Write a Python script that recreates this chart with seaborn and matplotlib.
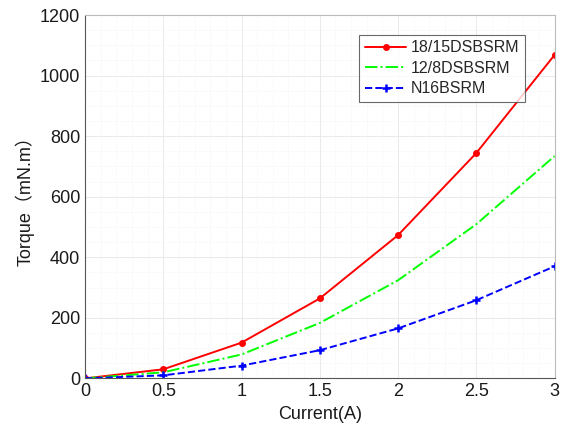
import matplotlib
matplotlib.use("Agg")
import matplotlib.pyplot as plt
import seaborn as sns
import pandas as pd
from matplotlib.ticker import MultipleLocator, FuncFormatter

current = [0, 0.5, 1, 1.5, 2, 2.5, 3]
dsbsrm_18_15 = [0, 30, 118, 264, 473, 744, 1068]
dsbsrm_12_8 = [0, 20, 79, 183, 324, 509, 734]
n16bsrm = [0, 10, 42, 93, 165, 258, 370]
series_names = ["18/15DSBSRM", "12/8DSBSRM", "N16BSRM"]

sns.set_style("white")
plt.rcParams['font.family'] = ['Liberation Sans', 'Noto Sans CJK SC', 'DejaVu Sans']

df = pd.DataFrame({
    "Current": current * 3,
    "Torque": dsbsrm_18_15 + dsbsrm_12_8 + n16bsrm,
    "Series": [series_names[0]] * 7 + [series_names[1]] * 7 + [series_names[2]] * 7,
})

fig, ax = plt.subplots(figsize=(5.67, 4.29), dpi=100)
fig.subplots_adjust(left=0.15, right=0.978, top=0.965, bottom=0.118)

styles = {
    series_names[0]: dict(color="#ff0000", linestyle="-", marker="o", markersize=4),
    series_names[1]: dict(color="#00ff00", linestyle="-.", marker=None),
    series_names[2]: dict(color="#0000ff", linestyle="--", marker="+", markersize=6, markeredgewidth=1.8),
}
for name in series_names:
    sub = df[df["Series"] == name]
    st = styles[name]
    sns.lineplot(data=sub, x="Current", y="Torque", ax=ax, label=name,
                 color=st["color"], linestyle=st["linestyle"], marker=st["marker"],
                 markersize=st.get("markersize", 4), markeredgewidth=st.get("markeredgewidth", 1),
                 markeredgecolor=st["color"], linewidth=1.4)

ax.set_xlim(0, 3)
ax.set_ylim(0, 1200)
ax.xaxis.set_major_locator(MultipleLocator(0.5))
ax.xaxis.set_minor_locator(MultipleLocator(0.1))
ax.yaxis.set_major_locator(MultipleLocator(200))
ax.yaxis.set_minor_locator(MultipleLocator(50))
ax.xaxis.set_major_formatter(FuncFormatter(lambda v, p: f"{v:g}"))
ax.grid(True, which="major", color="#e6e6e6", linewidth=0.6)
ax.grid(True, which="minor", color="#eeeeee", linewidth=0.5, linestyle=":")
ax.set_axisbelow(True)

for s in ["left", "bottom"]:
    ax.spines[s].set_color("#555555")
for s in ["top", "right"]:
    ax.spines[s].set_color("#bbbbbb")
ax.tick_params(axis="both", which="major", labelsize=13, length=3, direction="in", color="#555555", labelcolor="#1a1a1a")

ax.set_xlabel("Current(A)", fontsize=13, color="#1a1a1a")
ax.set_ylabel("Torque（mN.m）", fontsize=13, color="#1a1a1a")

leg = ax.legend(loc="upper right", fontsize=11.5, frameon=True, fancybox=False,
                edgecolor="#444444", handlelength=2.6, borderpad=0.35, labelspacing=0.35,
                handletextpad=0.3, bbox_to_anchor=(0.955, 0.968))
leg.get_frame().set_linewidth(0.8)

fig.savefig("out.png", dpi=100)
